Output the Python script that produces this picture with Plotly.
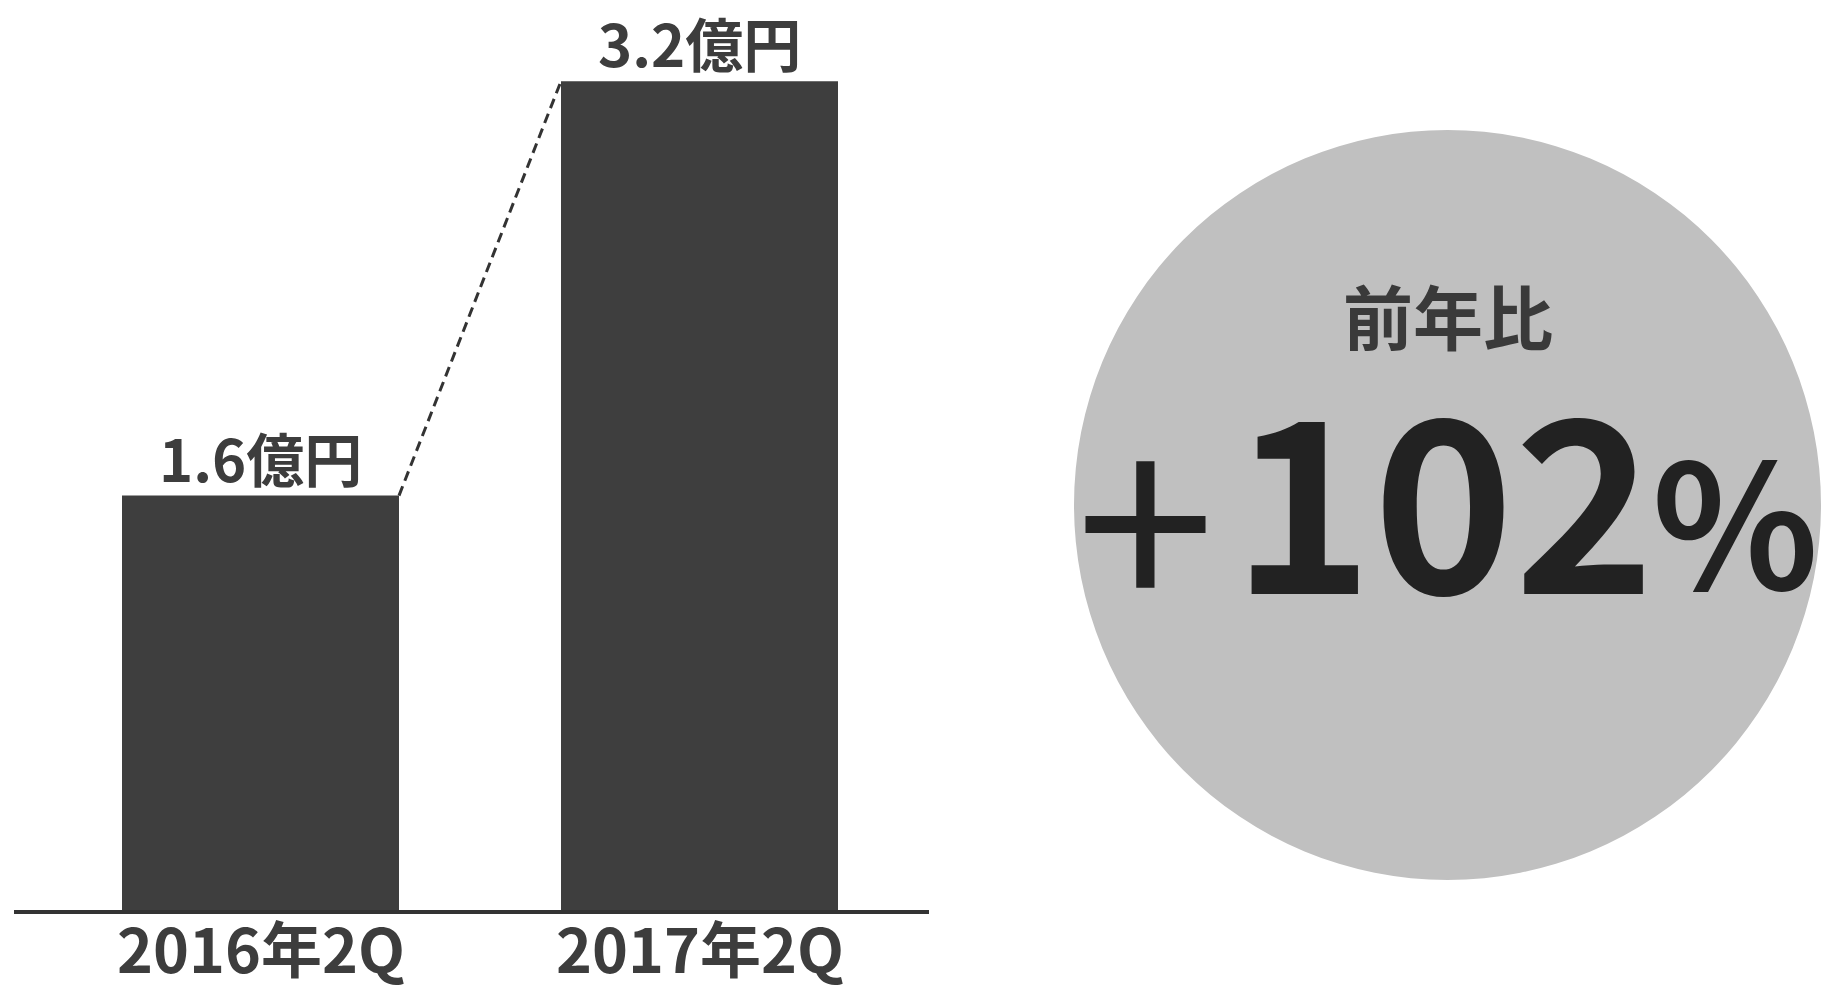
import plotly.graph_objects as go

# ---- data ----
categories = ["2016年2Q", "2017年2Q"]
values = [1.6, 3.2]
value_unit = "億円"
yoy_label = "前年比"
yoy_sign = "+"
yoy_number = "102"
yoy_unit = "%"

W, H = 1821, 992
FONT = "Noto Sans CJK JP"
BAR_COLOR = "#3e3e3e"
TEXT_COLOR = "#3d3d3d"
BAR_WIDTH = 0.631

xs = list(range(len(categories)))

fig = go.Figure()
fig.add_trace(go.Bar(
    x=xs, y=values, width=BAR_WIDTH,
    marker=dict(color=BAR_COLOR, line=dict(width=0)),
    hoverinfo="skip", showlegend=False,
))
# dashed connector from top-right of first bar to top-left of second bar
fig.add_trace(go.Scatter(
    x=[xs[0] + BAR_WIDTH / 2, xs[1] - BAR_WIDTH / 2],
    y=[values[0], values[1]],
    mode="lines",
    line=dict(color="#333333", width=3, dash="10px,6px"),
    hoverinfo="skip", showlegend=False,
))

annotations = []
# value labels above the bars
for x, v in zip(xs, values):
    annotations.append(dict(
        x=x, y=v, xref="x", yref="y",
        text=f"{v}{value_unit}", showarrow=False,
        xanchor="center", yanchor="bottom", yshift=-5,
        font=dict(family=FONT, size=58, color=TEXT_COLOR, weight="bold"),
    ))
# category labels under the baseline (kept inside the page)
for x, c in zip(xs, categories):
    annotations.append(dict(
        x=x, y=0, xref="x", yref="paper",
        text=c, showarrow=False, borderpad=0,
        xanchor="center", yanchor="bottom",
        font=dict(family=FONT, size=61, color=TEXT_COLOR, weight="bold"),
    ))

def px_x(p):
    return p / W

def px_y(p):
    return 1 - p / H

# circle text
annotations.append(dict(
    x=px_x(1448), y=px_y(314), xref="paper", yref="paper",
    text=yoy_label, showarrow=False, xanchor="center", yanchor="middle",
    font=dict(family=FONT, size=70, color="#3a3a3a", weight="bold"),
))
annotations.append(dict(
    x=px_x(1145), y=px_y(508), xref="paper", yref="paper",
    text=yoy_sign, showarrow=False, xanchor="center", yanchor="middle",
    font=dict(family=FONT, size=250, color="#222222", weight="normal"),
))
annotations.append(dict(
    x=px_x(1443), y=px_y(490), xref="paper", yref="paper",
    text=yoy_number, showarrow=False, xanchor="center", yanchor="middle",
    font=dict(family=FONT, size=239, color="#222222", weight="bold"),
))
annotations.append(dict(
    x=px_x(1735), y=px_y(514), xref="paper", yref="paper",
    text=yoy_unit, showarrow=False, xanchor="center", yanchor="middle",
    font=dict(family=FONT, size=173, color="#222222", weight="bold"),
))

shapes = [dict(
    type="circle", xref="paper", yref="paper",
    x0=px_x(1074), x1=px_x(1821), y0=px_y(880), y1=px_y(130),
    fillcolor="#c0c0c0", line=dict(width=0), layer="below",
)]

x_left_px, x_right_px = 14, 929
bar0_center_px, bar_spacing_px = 260.5, 439
base_px = 910
px_per_unit = 259

fig.update_layout(
    width=W, height=H, autosize=False,
    margin=dict(l=0, r=0, t=0, b=0, pad=0),
    paper_bgcolor="white", plot_bgcolor="rgba(0,0,0,0)",
    annotations=annotations, shapes=shapes,
    xaxis=dict(
        domain=[x_left_px / W, x_right_px / W],
        range=[(x_left_px - bar0_center_px) / bar_spacing_px,
               (x_right_px - bar0_center_px) / bar_spacing_px],
        tickvals=xs, ticktext=categories, showticklabels=False,
        showgrid=False, zeroline=False,
        showline=True, linecolor="#333333", linewidth=4,
        ticks="", fixedrange=True,
    ),
    yaxis=dict(
        domain=[(H - base_px) / H, 1],
        range=[0, base_px / px_per_unit],
        showgrid=False, zeroline=False, showline=False,
        showticklabels=False, ticks="", fixedrange=True,
    ),
)

fig.write_html(
    "out.html",
    config={"displayModeBar": False},
    post_script=(
        "document.documentElement.style.margin='0';"
        "document.documentElement.style.overflow='hidden';"
        "document.body.style.margin='0';"
        "document.body.style.overflow='hidden';"
    ),
)
